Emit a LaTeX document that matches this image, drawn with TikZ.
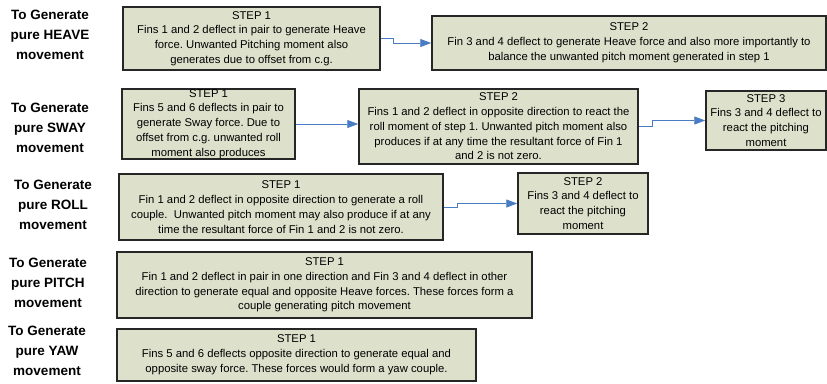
\documentclass[tikz,border=0pt]{standalone}
\usepackage{fontspec}
\setmainfont{Liberation Sans}
\usepackage{xcolor}
\usetikzlibrary{arrows.meta}
\frenchspacing

\definecolor{boxfill}{HTML}{DDE0CB}
\definecolor{arrowblue}{HTML}{4A7CC4}

\tikzset{
  stepbox/.style={draw=black!85, line width=1.5pt, fill=boxfill, align=center,
    inner sep=0pt, font=\fontsize{11.3}{14.8}\selectfont},
  movelabel/.style={align=center, font=\fontsize{13.5}{20}\selectfont\bfseries},
  flowarrow/.style={arrowblue, line width=0.9pt,
    -{Triangle[length=11pt, width=8pt]}}
}

\begin{document}
\begin{tikzpicture}[x=1pt, y=-1pt]
  \useasboundingbox (0,0) rectangle (827,383);
  % row labels
  \node[movelabel] (lHeave) at (50,35) {To Generate\\pure HEAVE\\movement};
  \node[movelabel] (lSway) at (50,128) {To Generate\\pure SWAY\\movement};
  \node[movelabel] (lRoll) at (53,205) {To Generate\\pure ROLL\\movement};
  \node[movelabel] (lPitch) at (48,283) {To Generate\\pure PITCH\\movement};
  \node[movelabel] (lYaw) at (47,351) {To Generate\\pure YAW\\movement};
  % heave
  \node[stepbox, minimum width=257pt, minimum height=63pt] (heaveA) at (251.5,38.5)
    {STEP 1\\Fins 1 and 2 deflect in pair to generate Heave\\force. Unwanted Pitching moment also\\generates due to offset from c.g.};
  \node[stepbox, minimum width=394pt, minimum height=54pt] (heaveB) at (629,43)
    {STEP 2\\Fin 3 and 4 deflect to generate Heave force and also more importantly to\\balance the unwanted pitch moment generated in step 1};
  % sway
  \node[stepbox, minimum width=173pt, minimum height=70pt] (swayA) at (208.5,124)
    {STEP 1\\Fins 5 and 6 deflects in pair to\\generate Sway force. Due to\\offset from c.g. unwanted roll\\moment also produces};
  \node[stepbox, minimum width=279pt, minimum height=75pt] (swayB) at (498.5,126.5)
    {STEP 2\\Fins 1 and 2 deflect in opposite direction to react the\\roll moment of step 1. Unwanted pitch moment also\\produces if at any time the resultant force of Fin 1\\and 2 is not zero.};
  \node[stepbox, minimum width=120pt, minimum height=59pt] (swayC) at (766,120.5)
    {STEP 3\\Fins 3 and 4 deflect to\\react the pitching\\moment};
  % roll
  \node[stepbox, minimum width=324pt, minimum height=66pt] (rollA) at (281,207)
    {STEP 1\\Fin 1 and 2 deflect in opposite direction to generate a roll\\couple.\ \ Unwanted pitch moment may also produce if at any\\time the resultant force of Fin 1 and 2 is not zero.};
  \node[stepbox, minimum width=130pt, minimum height=61pt] (rollB) at (583,203.5)
    {STEP 2\\Fins 3 and 4 deflect to\\react the pitching\\moment};
  % pitch
  \node[stepbox, minimum width=415pt, minimum height=66pt] (pitchA) at (324.5,285)
    {STEP 1\\Fin 1 and 2 deflect in pair in one direction and Fin 3 and 4 deflect in other\\direction to generate equal and opposite Heave forces. These forces form a\\couple generating pitch movement};
  % yaw
  \node[stepbox, minimum width=359pt, minimum height=52pt] (yawA) at (296.5,355)
    {STEP 1\\Fins 5 and 6 deflects opposite direction to generate equal and\\opposite sway force. These forces would form a yaw couple.};
  % connectors
  \draw[flowarrow] (heaveA.east) -- ++(13,0) |- (heaveB.west);
  \draw[flowarrow] (swayA.east) -- (swayA.east -| swayB.west);
  \draw[flowarrow] (swayB.east) -- ++(14,0) |- (swayC.west);
  \draw[flowarrow] (rollA.east) -- ++(14,0) |- (rollB.west);
\end{tikzpicture}
\end{document}
